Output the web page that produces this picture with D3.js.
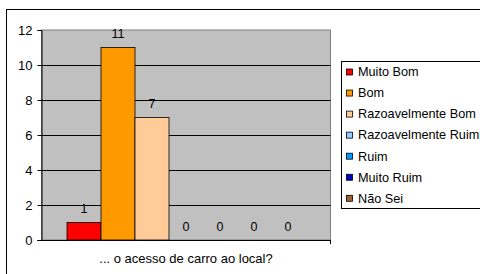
<!DOCTYPE html>
<html><head><meta charset="utf-8">
<script src="https://cdn.jsdelivr.net/npm/d3@7"></script>
<style>body{margin:0;background:#fff;}svg{display:block;font-family:"Liberation Sans",Arial,sans-serif;}</style>
</head><body><svg id="c" width="480" height="274"></svg>
<script>
const series = ["Muito Bom","Bom","Razoavelmente Bom","Razoavelmente Ruim","Ruim","Muito Ruim","Não Sei"];
const values = [1,11,7,0,0,0,0];
const colors = ["#FF0000","#FF9900","#FFCC99","#99CCFF","#0099FF","#0000CC","#996633"];
const category = "... o acesso de carro ao local?";
const yTicks = [0,2,4,6,8,10,12];

const FONT = "Liberation Sans,Arial,sans-serif";
const svg = d3.select("#c");
svg.append("rect").attr("x",6.5).attr("y",9.5).attr("width",480).attr("height",280)
  .attr("fill","#fff").attr("stroke","#000").attr("stroke-width",1);

const L=41.5, R=330.5, T=30, B=240;
const y = d3.scaleLinear().domain([0,12]).range([B,T]);
const xOuter = d3.scaleBand().domain([category]).range([L,R]).paddingInner(0).paddingOuter(0);
const groupW = 238;
const x = d3.scaleBand().domain(series).range([L+(R-L-groupW)/2, L+(R-L+groupW)/2]);

svg.append("rect").attr("x",L).attr("y",T).attr("width",R-L).attr("height",B-T)
  .attr("fill","#C0C0C0").attr("stroke","#808080").attr("stroke-width",1);

// gridlines
svg.append("g").selectAll("line").data(yTicks.filter(d=>d>0&&d<12)).join("line")
  .attr("x1",L).attr("x2",R).attr("y1",d=>Math.round(y(d))+0.5).attr("y2",d=>Math.round(y(d))+0.5)
  .attr("stroke","#000").attr("stroke-width",1);

// bars
svg.append("g").selectAll("rect").data(series).join("rect")
  .attr("x",(d)=>x(d)).attr("width",x.bandwidth())
  .attr("y",(d,i)=>y(values[i])).attr("height",(d,i)=>B-y(values[i]))
  .attr("fill",(d,i)=>colors[i]).attr("stroke","#000").attr("stroke-width",0.8);

// value labels
svg.append("g").selectAll("text").data(series).join("text")
  .attr("x",d=>x(d)+x.bandwidth()/2).attr("y",(d,i)=>y(values[i])-9.5)
  .attr("text-anchor","middle").attr("font-size",12.5).attr("fill","#000")
  .text((d,i)=>values[i]);

// y axis
const yAxis = d3.axisLeft(y).tickValues(yTicks).tickSize(4).tickPadding(5);
const gy = svg.append("g").attr("transform",`translate(${L},0)`).call(yAxis);
gy.select(".domain").attr("stroke","#000");
gy.selectAll(".tick line").attr("stroke","#000");
gy.selectAll("text").attr("font-size",13).attr("font-family",FONT).attr("fill","#000");

// x axis
const gx = svg.append("g").attr("transform",`translate(0,${B})`).call(d3.axisBottom(xOuter).tickSize(0).tickPadding(14));
gx.select(".domain").attr("stroke","#000").attr("d",`M${L-4},0.5H${R}`);
gx.selectAll("text").attr("font-size",13).attr("font-family",FONT).attr("fill","#000");
svg.append("line").attr("x1",R).attr("x2",R).attr("y1",B).attr("y2",B+4).attr("stroke","#000");

// legend
const lg = svg.append("g");
lg.append("rect").attr("x",341.5).attr("y",61.5).attr("width",160).attr("height",147)
  .attr("fill","#fff").attr("stroke","#000").attr("stroke-width",1);
const items = lg.selectAll("g").data(series).join("g")
  .attr("transform",(d,i)=>`translate(0,${72+i*21.05})`);
items.append("rect").attr("x",346.5).attr("y",-3).attr("width",6).attr("height",6)
  .attr("fill",(d,i)=>colors[i]).attr("stroke","#000").attr("stroke-width",0.8);
items.append("text").attr("x",358).attr("y",4.3).attr("font-size",12.7).attr("fill","#000").text(d=>d);
</script></body></html>
